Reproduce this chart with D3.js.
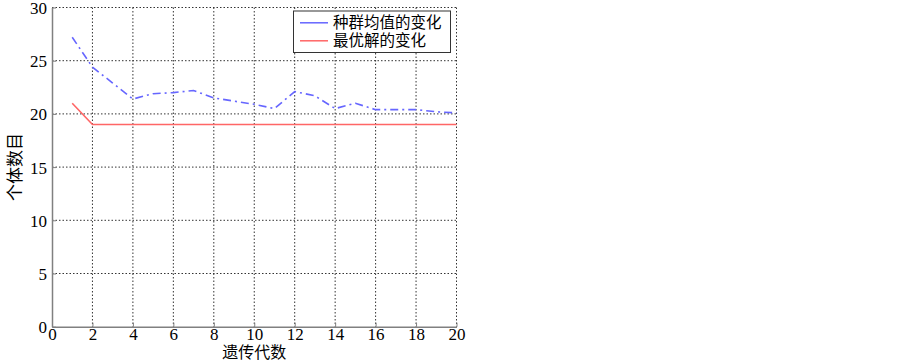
<!DOCTYPE html>
<html>
<head>
<meta charset="utf-8">
<script src="https://cdn.jsdelivr.net/npm/d3@7"></script>
<style>
  body { margin: 0; background: #fff; }
  svg { display: block; }
</style>
</head>
<body>
<script>
// generations and the two series
const generations = d3.range(1, 21);
const meanValues = [27.2, 24.4, 22.9, 21.4, 21.9, 22.0, 22.2, 21.5, 21.2, 20.9,
                    20.5, 22.1, 21.7, 20.5, 21.0, 20.4, 20.4, 20.4, 20.2, 20.1];
const bestValues = [21, 19, 19, 19, 19, 19, 19, 19, 19, 19,
                    19, 19, 19, 19, 19, 19, 19, 19, 19, 19];
const xTicks = [0, 2, 4, 6, 8, 10, 12, 14, 16, 18, 20];
const yTicks = [0, 5, 10, 15, 20, 25, 30];
const legendLabels = ["种群均值的变化", "最优解的变化"];
const xLabel = "遗传代数";
const yLabel = "个体数目";

const width = 903, height = 363;
const plotLeft = 52, plotRight = 456.5, plotTop = 7.5, plotBottom = 326.7;

const svg = d3.select("body").append("svg")
  .attr("width", width)
  .attr("height", height);

const x = d3.scaleLinear().domain([0, 20]).range([plotLeft, plotRight]);
const y = d3.scaleLinear().domain([0, 30]).range([plotBottom, plotTop]);

const numFont = "Liberation Serif, Times New Roman, serif";
const cjkFont = "Noto Sans CJK SC, sans-serif";

// dotted grid (includes the top and right edges)
const grid = svg.append("g")
  .attr("stroke", "#333")
  .attr("stroke-width", 1)
  .attr("stroke-dasharray", "1.5,2");

grid.selectAll("line.v")
  .data(xTicks.filter(d => d > 0))
  .enter()
  .append("line")
  .attr("x1", d => x(d))
  .attr("x2", d => x(d))
  .attr("y1", plotTop)
  .attr("y2", plotBottom);

grid.selectAll("line.h")
  .data(yTicks.filter(d => d > 0))
  .enter()
  .append("line")
  .attr("x1", plotLeft)
  .attr("x2", plotRight)
  .attr("y1", d => y(d))
  .attr("y2", d => y(d));

// axes: left and bottom solid, ticks pointing inward
const xAxis = svg.append("g")
  .attr("transform", `translate(0,${plotBottom})`)
  .call(d3.axisBottom(x).tickValues(xTicks).tickSize(-4).tickPadding(5).tickSizeOuter(0));
const yAxis = svg.append("g")
  .attr("transform", `translate(${plotLeft},0)`)
  .call(d3.axisLeft(y).tickValues(yTicks).tickSize(-4).tickPadding(5).tickSizeOuter(0));

[xAxis, yAxis].forEach(a => {
  a.attr("font-family", numFont).attr("font-size", 17);
  a.select(".domain").attr("stroke", "#808080").attr("stroke-width", 1.5);
  a.selectAll(".tick line").attr("stroke", "#808080").attr("stroke-width", 1);
  a.selectAll(".tick text").attr("fill", "#000");
});
xAxis.selectAll(".tick text").attr("dy", "0.5em");
yAxis.selectAll(".tick text").attr("dy", "0.35em");

// lines
const line = d3.line()
  .x((d, i) => x(generations[i]))
  .y(d => y(d));

svg.append("path")
  .datum(bestValues)
  .attr("d", line)
  .attr("fill", "none")
  .attr("stroke", "#ff6666")
  .attr("stroke-width", 1.6);

svg.append("path")
  .datum(meanValues)
  .attr("d", line)
  .attr("fill", "none")
  .attr("stroke", "#6666ff")
  .attr("stroke-width", 1.6)
  .attr("stroke-dasharray", "8,4,2,4");

// axis titles
svg.append("text")
  .attr("x", (plotLeft + plotRight) / 2)
  .attr("y", 358)
  .attr("text-anchor", "middle")
  .attr("font-family", cjkFont)
  .attr("font-size", 16)
  .text(xLabel);

svg.append("text")
  .attr("transform", `translate(21,${(plotTop + plotBottom) / 2}) rotate(-90)`)
  .attr("text-anchor", "middle")
  .attr("font-family", cjkFont)
  .attr("font-size", 17)
  .text(yLabel);

// legend
const legend = svg.append("g");
legend.append("rect")
  .attr("x", 293.5)
  .attr("y", 11)
  .attr("width", 157)
  .attr("height", 41.5)
  .attr("fill", "#fff")
  .attr("stroke", "#333")
  .attr("stroke-width", 1);

const legendColors = ["#6666ff", "#ff6666"];
legendLabels.forEach((lab, i) => {
  const ly = 22.8 + i * 18;
  legend.append("line")
    .attr("x1", 300).attr("x2", 328)
    .attr("y1", ly).attr("y2", ly)
    .attr("stroke", legendColors[i])
    .attr("stroke-width", 1.5);
  legend.append("text")
    .attr("x", 333)
    .attr("y", ly)
    .attr("dy", "0.35em")
    .attr("font-family", cjkFont)
    .attr("font-size", 15.5)
    .text(lab);
});
</script>
</body>
</html>
